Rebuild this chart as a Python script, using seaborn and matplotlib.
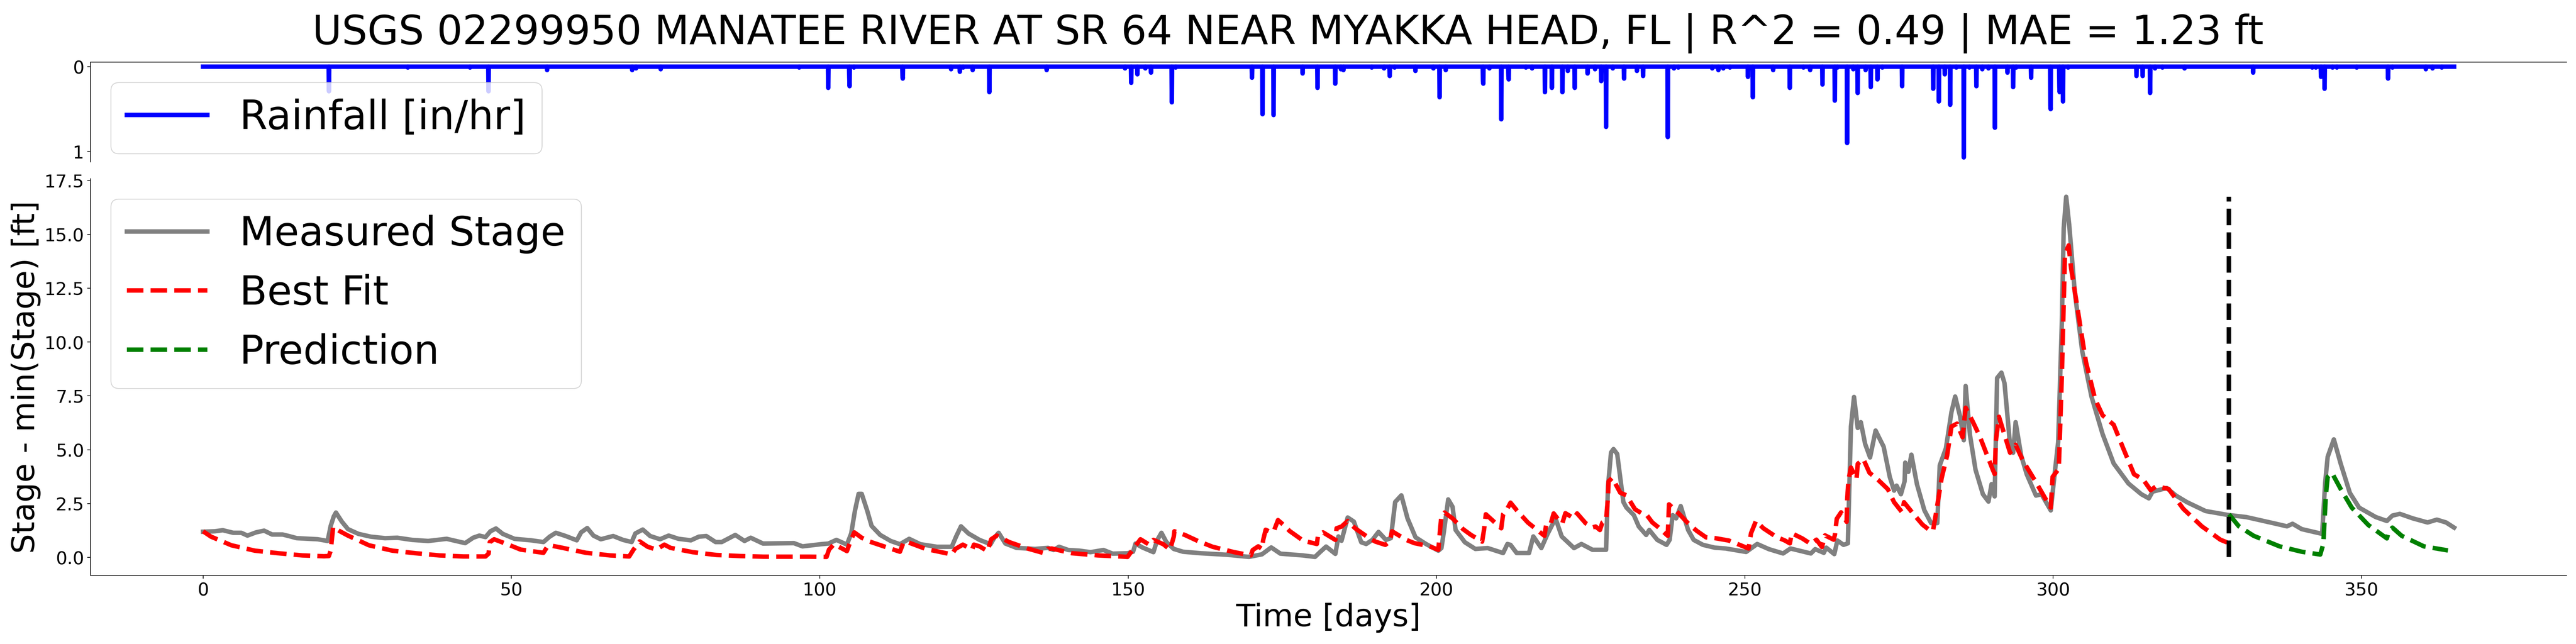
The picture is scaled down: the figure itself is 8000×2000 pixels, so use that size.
import numpy as np
import pandas as pd
import matplotlib
matplotlib.use("Agg")
import matplotlib.pyplot as plt
import seaborn as sns

title = "USGS 02299950 MANATEE RIVER AT SR 64 NEAR MYAKKA HEAD, FL | R^2 = 0.49 | MAE = 1.23 ft"
split_day = 328.5

# Rainfall events
rain_days = [20.4, 33.2, 43.3, 46.3, 55.8, 69.6, 70.2, 74.2, 96.65, 101.36, 104.78, 104.82, 105.55, 113.43, 113.47,
             121.3, 122.7, 123.25, 124.8, 127.5, 136.8, 149.5, 150.5, 151.5, 152.8, 153.7, 157.1, 157.7, 170.1,
             171.8, 173.6, 178.3, 180.7, 183.6, 184.5, 184.9, 189.5, 191.5, 192.4, 193.2, 196.6, 199.5, 200.5,
             201.5, 207.55, 207.6, 208.6, 210.5, 211.66, 211.7, 214.5, 215.5, 217.6, 218.7, 220.4, 221.3, 222.4,
             224.5, 225.7, 226.7, 227.5, 228.6, 230.4, 232.5, 233.5, 237.5, 238.5, 239.2, 244.7, 245.7, 246.5,
             247.6, 250.5, 251.3, 254.6, 257.3, 259.5, 260.6, 262.6, 264.6, 265.0, 266.6, 267.6, 268.3, 269.6,
             270.4, 271.5, 272.3, 275.5, 280.55, 281.45, 282.4, 283.3, 284.3, 285.5, 286.4, 287.55, 288.5, 289.5,
             290.55, 292.6, 293.5, 294.0, 296.4, 299.55, 299.6, 301.0, 301.04, 301.6, 302.4, 313.5, 314.5, 315.7,
             316.5, 317.7, 321.3, 332.4, 342.0, 342.6, 343.4, 344.0, 345.3, 346.0, 349.2, 354.3, 355.0, 360.4,
             361.5, 363.0]
rain_vals = [0.29, 0.01, 0.01, 0.29, 0.04, 0.04, 0.02, 0.03, 0.01, 0.25, 0.13, 0.23, 0.01, 0.11, 0.14,
             0.03, 0.06, 0.01, 0.04, 0.30, 0.04, 0.02, 0.19, 0.09, 0.02, 0.07, 0.42, 0.01, 0.13,
             0.56, 0.57, 0.08, 0.25, 0.20, 0.03, 0.04, 0.01, 0.02, 0.11, 0.01, 0.05, 0.02, 0.36,
             0.04, 0.17, 0.20, 0.02, 0.62, 0.11, 0.15, 0.01, 0.02, 0.30, 0.25, 0.30, 0.05, 0.25,
             0.08, 0.03, 0.17, 0.71, 0.02, 0.14, 0.05, 0.11, 0.83, 0.02, 0.01, 0.02, 0.04, 0.02,
             0.01, 0.12, 0.36, 0.04, 0.25, 0.01, 0.04, 0.21, 0.40, 0.01, 0.90, 0.03, 0.31, 0.04,
             0.24, 0.15, 0.01, 0.23, 0.26, 0.41, 0.09, 0.45, 0.01, 1.07, 0.01, 0.23, 0.03, 0.02,
             0.72, 0.07, 0.24, 0.01, 0.13, 0.46, 0.50, 0.24, 0.30, 0.41, 0.01, 0.11, 0.11, 0.31,
             0.02, 0.01, 0.02, 0.07, 0.01, 0.01, 0.12, 0.26, 0.01, 0.01, 0.01, 0.14, 0.01, 0.03,
             0.02, 0.01]

measured_days = [0, 1.9, 3.2, 4.9, 6.2, 7.2, 8.6, 9.9, 11.2, 12.9, 13.9, 15.2, 18.6, 20.2, 20.7, 21.2, 21.55, 22.5,
                 23.5, 25.2, 27.2, 29.5, 31.5, 33.9, 36.5, 39.5, 42.5, 43.8, 44.8, 45.8, 46.6, 47.5, 48.6, 50.5,
                 53.2, 55.2, 56.2, 57.2, 58.8, 60.6, 61.3, 62.3, 63.3, 64.5, 66.5, 68.1, 69.5, 70.1, 71.3, 72.5,
                 74.1, 75.5, 77.1, 79.1, 80.4, 81.6, 83.1, 84.1, 86.3, 87.8, 88.8, 90.8, 95.8, 97.2, 100.2, 101.4,
                 102.7, 104.4, 105.1, 105.7, 106.3, 106.8, 107.7, 108.4, 109.8, 111.5, 113.0, 114.5, 116.3, 119.0,
                 121.4, 122.1, 122.9, 124.1, 125.9, 127.7, 128.3, 129.0, 130.1, 131.9, 134.9, 137.0, 137.9, 138.8,
                 140.3, 142.1, 143.9, 146.0, 147.5, 149.9, 150.8, 151.2, 152.3, 154.1, 154.7, 155.4, 156.2, 157.4,
                 158.9, 161.8, 166.0, 169.6, 171.7, 173.2, 174.7, 178.3, 180.3, 181.1, 182.1, 183.6, 184.1, 184.6,
                 185.6, 186.6, 187.8, 188.6, 189.6, 190.6, 191.8, 192.6, 193.3, 194.3, 195.3, 196.6, 198.3, 200.3,
                 200.8, 201.2, 201.9, 202.6, 203.1, 204.6, 206.3, 208.3, 210.8, 211.5, 212, 213, 215, 215.7, 217,
                 218, 219.3, 220.3, 222.3, 223.5, 225.3, 227.5, 227.8, 228.3, 228.7, 229.3, 230.3, 230.8, 232,
                 232.8, 234, 234.5, 235.8, 237.3, 237.8, 238.3, 238.85, 239.6, 240.8, 241.7, 243.2, 245.1, 246.9,
                 250.2, 252, 253.9, 256.2, 257.4, 260.7, 261.4, 262.8, 263.2, 264.5, 265, 266, 266.7, 267.2, 267.7,
                 268.3, 268.8, 269.5, 270.3, 271.2, 271.8, 272.5, 273.5, 274.2, 274.6, 275.3, 275.9, 276, 276.5,
                 277, 277.9, 279.1, 280.2, 281.2, 281.6, 282.6, 283.5, 284.1, 284.9, 285.5, 285.8, 286.5, 287.4,
                 288.6, 289.5, 290, 290.5, 290.9, 291.6, 292.1, 293, 293.5, 293.9, 294.8, 295.7, 297.2, 298.1,
                 299.6, 300.2, 300.8, 301.4, 301.7, 302.1, 302.6, 303.5, 304.7, 306.2, 308, 309.8, 312.2, 314.3,
                 315.5, 316.1, 318.4, 319.9, 321.7, 324.7, 328.3, 331.3, 336.1, 337.9, 338.8, 340.3, 343.6, 344.1,
                 344.5, 345.5, 346.6, 348.1, 349.6, 352.3, 354.1, 355, 356.2, 358.3, 360.7, 362.2, 363.7, 365]
measured_vals = [1.19, 1.21, 1.26, 1.14, 1.14, 1.01, 1.16, 1.24, 1.06, 1.06, 0.99, 0.89, 0.84, 0.76, 1.46, 1.9, 2.08, 1.66,
                 1.31, 1.09, 0.96, 0.89, 0.91, 0.81, 0.76, 0.86, 0.66, 0.91, 1.01, 0.94, 1.21, 1.34, 1.09, 0.86,
                 0.79, 0.71, 0.96, 1.14, 0.99, 0.79, 1.16, 1.36, 1.01, 0.84, 0.99, 0.81, 0.71, 1.11, 1.29, 0.99,
                 0.84, 1.01, 0.86, 0.79, 0.96, 0.99, 0.71, 0.71, 1.04, 0.76, 0.91, 0.64, 0.66, 0.51, 0.61, 0.64,
                 0.81, 0.59, 1.11, 2.16, 2.95, 2.95, 2.16, 1.46, 1.04, 0.76, 0.61, 0.86, 0.61, 0.49,
                 0.49, 0.96, 1.44, 1.11, 0.81, 0.61, 0.91, 1.14, 0.64, 0.44, 0.39, 0.44, 0.34, 0.49,
                 0.34, 0.31, 0.24, 0.34, 0.17, 0.19, 0.26, 0.64, 0.46, 0.24, 0.79, 1.14, 0.71, 0.39,
                 0.26, 0.19, 0.12, 0.02, 0.14, 0.46, 0.17, 0.09, 0.02, 0.24, 0.50, 0.16, 0.97, 0.77,
                 1.85, 1.66, 0.70, 0.62, 0.81, 1.18, 0.81, 0.89, 2.57, 2.88, 1.81, 0.93, 0.62, 0.31,
                 0.43, 1.20, 2.69, 2.35, 1.27, 0.70, 0.39, 0.43, 0.20, 0.62, 0.58, 0.20, 0.20, 0.97, 0.43,
                 1.08, 1.81, 0.97, 0.43, 0.62, 0.35, 0.35, 3.27, 4.87, 5.03, 4.80, 2.57, 2.31, 1.96,
                 1.43, 1.04, 1.27, 0.81, 0.58, 0.81, 1.96, 1.81, 2.38, 1.27, 0.81, 0.58, 0.45, 0.41,
                 0.25, 0.62, 0.38, 0.18, 0.41, 0.18, 0.38, 0.21, 0.45, 0.15, 0.78, 0.58, 0.65, 6.08, 7.45,
                 6.01, 6.28, 5.27, 4.64, 5.89, 5.54, 5.14, 3.73, 3.10, 3.33, 2.93, 3.53, 4.40, 3.97,
                 4.77, 3.40, 2.19, 1.59, 1.59, 4.27, 5.07, 6.75, 7.47, 6.55, 5.44, 7.96, 5.68, 4.07,
                 2.93, 2.59, 3.40, 2.83, 8.33, 8.58, 8.09, 5.23, 4.86, 6.28, 4.73, 3.86, 2.87, 2.93,
                 2.18, 3.80, 5.35, 10.94, 15.29, 16.75, 15.42, 12.31, 9.58, 7.47, 5.73, 4.36, 3.43, 2.93,
                 2.74, 3.05, 3.22, 2.87, 2.56, 2.15, 1.97, 1.87, 1.56, 1.44, 1.56, 1.31, 1.09, 3.49,
                 4.67, 5.48, 4.36, 2.99, 2.31, 1.87, 1.69, 1.94, 2.02, 1.81, 1.62, 1.75, 1.62, 1.38]

fit_days = [0, 1.3, 4.6, 8.4, 12.2, 16.1, 19.6, 20.4, 20.7, 21.1, 22.2, 23.5, 26.9, 30.7, 34.5, 38.3, 42.2, 45.8, 46.3,
            46.5, 47.2, 49.5, 51.5, 55.2, 55.8, 56.2, 58.3, 62.1, 66, 69.1, 69.8, 70.8, 72.1, 73.5, 74.8, 75.8,
            79.4, 83.2, 87.1, 90.9, 94.8, 98.4, 101.1, 101.5, 102.3, 104.4, 105, 105.6, 106.8, 108, 110.4, 113,
            113.6, 114.2, 117.2, 120.5, 121.4, 122, 123.2, 124.7, 125, 125.9, 127.2, 127.8, 128.7, 130.7, 133.7,
            136.4, 137, 137.6, 140.9, 145.1, 148.7, 149.9, 150.5, 151.4, 152, 153.4, 154.1, 155.7, 156.8, 157.4,
            157.5, 159.2, 161.3, 163.7, 167.2, 169.9, 170.2, 171.1, 171.7, 171.9, 172.3, 173.2, 173.7, 174.3,
            175.1, 176.2, 178.4, 180.6, 180.8, 181.6, 183.6, 183.8, 184.6, 185.6, 186.8, 189.1, 190.1, 191.7,
            192.4, 192.8, 195.1, 196.4, 198.8, 200.3, 200.6, 200.8, 201.3, 202.6, 204.3, 205.6, 207.4, 207.7,
            208, 209.3, 210.5, 210.8, 211.5, 212, 213, 214.8, 215.8, 217.5, 217.8, 218.5, 219, 220, 220.4,
            220.9, 222.3, 222.8, 224.2, 225.3, 225.8, 226.5, 226.9, 227.5, 227.8, 227.9, 228.5, 229.8, 230.8,
            232.2, 233.3, 234, 235, 236, 237.5, 237.7, 239, 240.8, 242.2, 243.7, 245.2, 247.4, 248.8, 250.6,
            251, 251.8, 253, 255.1, 256.5, 257.3, 257.6, 259.3, 260.7, 261.6, 262.5, 263, 264.4, 264.6, 264.9,
            265.6, 266.5, 266.6, 266.8, 267.2, 268.1, 268.3, 269.2, 270.2, 271.6, 273.2, 274.2, 275.5, 275.8,
            277.2, 278.8, 280, 280.5, 281, 281.9, 282.8, 283.5, 284.4, 285.3, 285.8, 287, 288.1, 289.1, 290.2,
            290.5, 290.7, 291.2, 291.8, 293, 293.9, 295.1, 297.2, 298.7, 299.6, 299.9, 300.9, 301.4, 301.9,
            302.5, 302.9, 303.8, 305.3, 306.8, 308, 309.8, 311.3, 313.1, 314.6, 315.8, 316.7, 318.7, 321.1,
            324.1, 327.1, 328.2]
fit_vals = [1.21, 0.96, 0.56, 0.31, 0.19, 0.09, 0.05, 0.06, 0.31, 1.41, 1.21, 1.01, 0.56, 0.31, 0.19, 0.09, 0.04, 0.04, 0.17,
            0.71, 0.84, 0.59, 0.36, 0.21, 0.49, 0.56, 0.44, 0.21, 0.09, 0.04, 0.36, 0.74, 0.49, 0.36, 0.59, 0.44,
            0.24, 0.11, 0.06, 0.03, 0.03, 0.03, 0.02, 0.36, 0.61, 0.29, 0.76, 1.16, 0.91, 0.74, 0.51, 0.26,
            0.71, 0.71, 0.39, 0.19, 0.14, 0.39, 0.59, 0.36, 0.59, 0.51, 0.29, 0.84, 1.01, 0.71, 0.41,
            0.19, 0.39, 0.41, 0.19, 0.09, 0.04, 0.02, 0.26, 0.61, 0.84, 0.59, 0.81, 0.61, 0.36, 0.96,
            1.21, 1.04, 0.76, 0.49, 0.24, 0.09, 0.34, 0.51, 0.39, 0.81, 1.28, 1.16, 1.28, 1.73,
            1.53, 1.22, 0.77, 0.62, 1.04, 1.16, 0.81, 1.35, 1.43, 1.69, 1.35, 0.89, 0.73, 0.58,
            0.73, 1.21, 0.81, 0.66, 0.52, 0.35, 1.35, 1.92, 2.08, 1.81, 1.31, 1.04, 0.73, 1.27,
            2.0, 1.66, 1.35, 2.0, 2.27, 2.54, 2.19, 1.62, 1.39, 1.0, 1.54, 1.54, 2.04, 1.66, 1.58,
            2.05, 1.81, 2.04, 1.58, 1.39, 1.43, 1.27, 1.62, 1.73, 2.77, 3.53, 3.69, 3.0, 2.88,
            2.23, 2.04, 2.0, 1.62, 1.39, 1.0, 2.46, 2.12, 1.58, 1.23, 0.93, 0.89, 0.78, 0.62, 0.41,
            1.12, 1.69, 1.35, 0.95, 0.78, 0.65, 1.12, 0.88, 0.62, 0.82, 0.48, 1.02, 0.82, 1.05, 1.79,
            2.09, 1.65, 2.73, 3.60, 4.17, 3.63, 4.34, 4.57, 3.93, 3.6, 3.16, 2.56, 2.09, 2.56,
            2.06, 1.52, 1.25, 1.22, 2.06, 3.67, 4.74, 6.08, 6.21, 5.58, 6.95, 6.28, 5.61, 4.87, 4.07,
            3.87, 5.41, 6.53, 5.97, 4.86, 5.23, 4.48, 3.49, 2.74, 2.31, 3.74, 4.11, 8.46, 14.05,
            14.49, 13.43, 11.81, 9.08, 7.34, 6.6, 6.16, 5.1, 3.86, 3.61, 3.12, 3.3, 3.18, 2.25,
            1.44, 0.82, 0.69]

pred_days = [328.5, 330.1, 332.5, 336.7, 340.3, 343.3, 343.8, 344.2, 344.5, 345.2, 346.6, 348.4, 351.1, 354.1, 354.4,
             355, 356.5, 360.1, 364]
pred_vals = [2.0, 1.44, 1.0, 0.51, 0.26, 0.13, 0.63, 2.87, 3.74, 3.92, 3.18, 2.31, 1.5, 0.88, 1.19,
             1.38, 1.0, 0.51, 0.32]

# Sparse events to an hourly series
hours = np.arange(365 * 24 + 1)
rain = np.zeros(len(hours))
rain[np.round(np.array(rain_days) * 24).astype(int)] = rain_vals
df_rain = pd.DataFrame({"t": hours / 24, "rain": rain})

fig = plt.figure(figsize=(40, 10), dpi=200)
ax_rain = fig.add_axes([281 / 8000, 1 - 503 / 2000, 7690 / 8000, 310 / 2000])
ax = fig.add_axes([281 / 8000, 1 - 1787 / 2000, 7690 / 8000, 1232 / 2000])

sns.lineplot(data=df_rain, x="t", y="rain", color="blue", linewidth=5, label="Rainfall [in/hr]",
             errorbar=None, ax=ax_rain)
ax_rain.set_xlim(-18.25, 383.25)
ax_rain.set_ylim(1.1235, -0.0535)
ax_rain.set_xticks([])
ax_rain.set_yticks([0, 1])
ax_rain.set_xlabel("")
ax_rain.set_ylabel("")
ax_rain.tick_params(axis="y", labelsize=20)
ax_rain.legend(loc="upper left", fontsize=45)
sns.despine(ax=ax_rain, top=False, bottom=True)

sns.lineplot(x=measured_days, y=measured_vals, color="gray", linewidth=5, label="Measured Stage", errorbar=None, ax=ax)
sns.lineplot(x=fit_days, y=fit_vals, color="red", linewidth=5, linestyle="--", label="Best Fit", errorbar=None, ax=ax)
sns.lineplot(x=pred_days, y=pred_vals, color="green", linewidth=5, linestyle="--", label="Prediction", errorbar=None, ax=ax)
ax.vlines(split_day, min(measured_vals), max(measured_vals), color="black", linewidth=5, linestyle="--")
ax.set_xlim(-18.25, 383.25)
ax.set_ylim(-0.84, 17.59)
ax.set_xlabel("Time [days]", fontsize=35)
ax.set_ylabel("Stage - min(Stage) [ft]", fontsize=35)
ax.tick_params(labelsize=20)
ax.legend(loc="upper left", fontsize=45)
sns.despine(ax=ax)

fig.suptitle(title, fontsize=45, x=0.5, y=1 - 137 / 2000, va="baseline")
fig.savefig("out.png")
